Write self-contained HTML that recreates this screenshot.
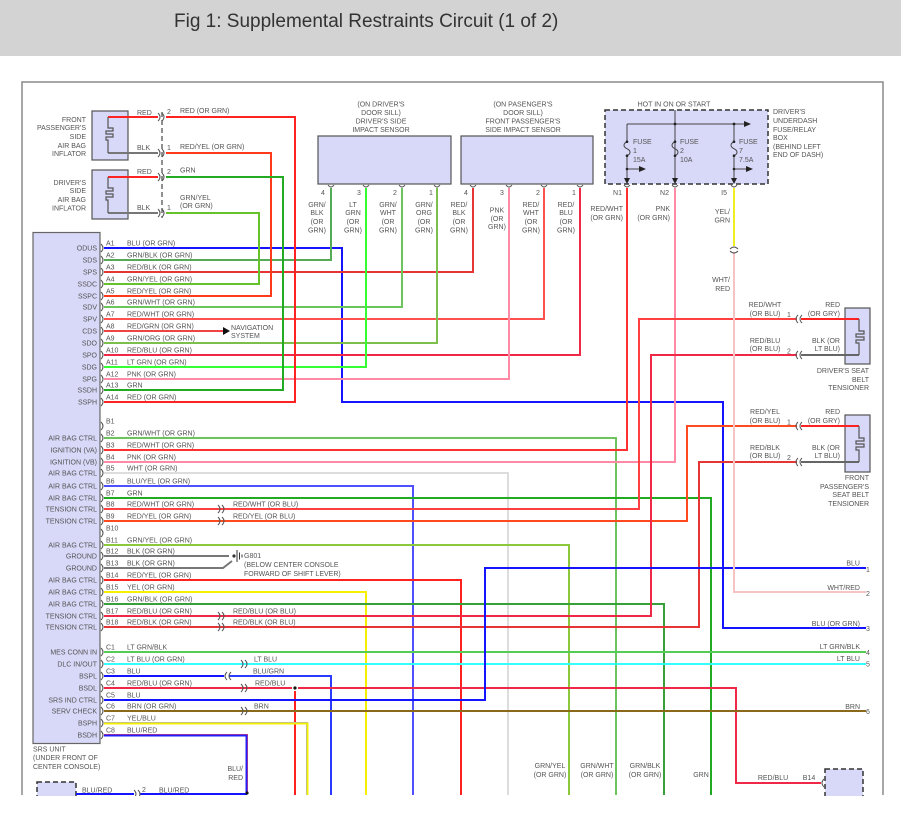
<!DOCTYPE html>
<html>
<head>
<meta charset="utf-8">
<style>
html,body{margin:0;padding:0;background:#fff;}
body{width:901px;height:820px;overflow:hidden;}
svg{display:block;}
.w{fill:none;stroke-width:2;stroke-linejoin:miter;stroke-linecap:butt}
.t{font-size:7px;fill:#555}
.e{text-anchor:end}
.m{text-anchor:middle}
.c{fill:none;stroke:#555;stroke-width:1}
</style>
</head>
<body>
<svg width="901" height="820" viewBox="0 0 901 820" xmlns="http://www.w3.org/2000/svg" font-family="'Liberation Sans', Arial, sans-serif">
<rect x="0" y="0" width="901" height="820" fill="#fff"/>
<rect x="0" y="0" width="901" height="56" fill="#d3d3d3"/>
<text x="174" y="27" font-size="19" fill="#333">Fig 1: Supplemental Restraints Circuit (1 of 2)</text>

<!-- frame -->
<path d="M22,795V82H883V795" fill="none" stroke="#8a8a8a" stroke-width="1.5"/>

<!-- components -->
<rect x="92" y="111" width="36" height="49" fill="#d8d8f8" stroke="#555" stroke-width="1.2"/>
<rect x="92" y="170" width="36" height="49" fill="#d8d8f8" stroke="#555" stroke-width="1.2"/>
<rect x="318" y="136" width="133" height="48" fill="#d8d8f8" stroke="#555" stroke-width="1.2"/>
<rect x="461" y="136" width="132" height="48" fill="#d8d8f8" stroke="#555" stroke-width="1.2"/>
<rect x="605" y="110" width="163" height="74" fill="#d8d8f8" stroke="#333" stroke-width="1.5" stroke-dasharray="5 3"/>
<rect x="33" y="232.5" width="67" height="511" fill="#d8d8f8" stroke="#666" stroke-width="1.2"/>
<rect x="845" y="308" width="25" height="56" fill="#d8d8f8" stroke="#555" stroke-width="1.2"/>
<rect x="845" y="415" width="25" height="57" fill="#d8d8f8" stroke="#555" stroke-width="1.2"/>
<rect x="825" y="769" width="38" height="40" fill="#d8d8f8" stroke="#333" stroke-width="1.5" stroke-dasharray="5 3"/>
<rect x="37" y="782" width="39" height="30" fill="#d8d8f8" stroke="#333" stroke-width="1.5" stroke-dasharray="5 3"/>

<!-- inflator internals -->
<path class="w" stroke="#ff2222" d="M108,117H158"/>
<path class="w" stroke="#777" d="M108,153H158"/>
<path fill="none" stroke="#555" stroke-width="1.2" d="M108,117V128H113V131H106V134H113V137H106V140H108V153"/>
<path class="w" stroke="#ff2222" d="M108,177H158"/>
<path class="w" stroke="#777" d="M108,213H158"/>
<path fill="none" stroke="#555" stroke-width="1.2" d="M108,177V188H113V191H106V194H113V197H106V200H108V213"/>
<path d="M162,112V218" stroke="#555" stroke-width="1.3" stroke-dasharray="5 3" fill="none"/>

<!-- fuse box internals -->
<g stroke="#444" stroke-width="1" fill="none">
<path d="M675,110V180"/>
<path d="M627,124H747"/>
<path d="M627,124V141.7c-4,2 -4,5 0,7c4,2 4,5 0,7V180"/>
<path d="M675,124V141.7c-4,2 -4,5 0,7c4,2 4,5 0,7"/>
<path d="M734,124V141.7c-4,2 -4,5 0,7c4,2 4,5 0,7V180"/>
<path d="M627,169H640"/>
<path d="M734,169H747"/>
</g>
<g fill="#222">
<polygon points="744,121 751,124 744,127"/>
<polygon points="639,166 646,169 639,172"/>
<polygon points="746,166 753,169 746,172"/>
<polygon points="624,178 630,178 627,184"/>
<polygon points="672,178 678,178 675,184"/>
<polygon points="731,178 737,178 734,184"/>
<circle cx="675" cy="124" r="1.4"/><circle cx="734" cy="124" r="1.4"/>
<circle cx="627" cy="141.7" r="1.3"/><circle cx="627" cy="155.7" r="1.3"/>
<circle cx="675" cy="141.7" r="1.3"/><circle cx="675" cy="155.7" r="1.3"/>
<circle cx="734" cy="141.7" r="1.3"/><circle cx="734" cy="155.7" r="1.3"/>
<circle cx="627" cy="169" r="1.3"/><circle cx="734" cy="169" r="1.3"/>
</g>

<!-- tensioner internals -->
<path class="w" stroke="#ff2222" d="M801,319H859"/>
<path class="w" stroke="#666" d="M801,355H859"/>
<path fill="none" stroke="#555" stroke-width="1.2" d="M859,319V331H864V334H856V337H864V340H856V343H859V355"/>
<path class="w" stroke="#ff2222" d="M801,426H859"/>
<path class="w" stroke="#666" d="M801,462H859"/>
<path fill="none" stroke="#555" stroke-width="1.2" d="M859,426V438H864V441H856V444H864V447H856V450H859V462"/>

<!-- ===== WIRES ===== -->
<!-- A -->
<path class="w" stroke="#1414ff" d="M104,248H342V402H723V628H866"/>
<path class="w" stroke="#55aa55" d="M104,260H331V188"/>
<path class="w" stroke="#e53535" d="M104,272H473V188"/>
<path class="w" stroke="#e8e020" stroke-width="3" d="M104,284H259V213H166"/>
<path class="w" stroke="#66c22a" stroke-width="1.8" d="M104,284H259V213H166"/>
<path class="w" stroke="#ffc800" stroke-width="3" d="M104,296H271V153H166"/>
<path class="w" stroke="#ff3a1a" stroke-width="1.8" d="M104,296H271V153H166"/>
<path class="w" stroke="#6cc45c" d="M104,307H402V188"/>
<path class="w" stroke="#ff5050" d="M104,319H544V188"/>
<path class="w" stroke="#f04444" d="M104,331H224"/>
<polygon points="223,327 230,331 223,335" fill="#111"/>
<path class="w" stroke="#7cbf4c" d="M104,343H437V188"/>
<path class="w" stroke="#6060ff" stroke-width="3" d="M104,355H580V188"/>
<path class="w" stroke="#f02848" stroke-width="1.8" d="M104,355H580V188"/>
<path class="w" stroke="#33ff33" d="M104,367H366V188"/>
<path class="w" stroke="#ff8aa5" d="M104,379H509V188"/>
<path class="w" stroke="#22aa22" d="M104,390H283V177H166"/>
<path class="w" stroke="#ff2222" d="M104,402H295V117H166"/>

<!-- B -->
<path class="w" stroke="#6cc45c" d="M104,438H616V795"/>
<path class="w" stroke="#ff3030" d="M104,450H627V188"/>
<path class="w" stroke="#ff8aa5" d="M104,462H675V188"/>
<path class="w" stroke="#dddddd" d="M104,473H508V795"/>
<path class="w" stroke="#5050ff" d="M104,486H413V795"/>
<path class="w" stroke="#22aa22" d="M104,498H711V795"/>
<path class="w" stroke="#ff4040" d="M104,509H639V319H797"/>
<path class="w" stroke="#ff4a20" d="M104,521H687V426H797"/>
<path class="w" stroke="#8cc83c" d="M104,545H569V795"/>
<path class="w" stroke="#777" d="M104,556H229"/>
<path class="w" stroke="#777" d="M104,568H223L232,561"/>
<path class="w" stroke="#ff2020" d="M104,580H461V795"/>
<path class="w" stroke="#f5f000" d="M104,592H366V795"/>
<path class="w" stroke="#38a038" d="M104,604H664V795"/>
<path class="w" stroke="#6060ff" stroke-width="3" d="M104,616H651V355H797"/>
<path class="w" stroke="#f02848" stroke-width="1.8" d="M104,616H651V355H797"/>
<path class="w" stroke="#e53535" d="M104,627H699V462H797"/>

<!-- C -->
<path class="w" stroke="#55cc55" d="M104,652H866"/>
<path class="w" stroke="#33ffff" d="M104,664H866"/>
<path class="w" stroke="#1414ff" d="M104,676H224"/>
<path class="w" stroke="#2a3aff" d="M229,676H331V795"/>
<path class="w" stroke="#6060ff" stroke-width="3" d="M104,688H292M298,688H736V783H821"/>
<path class="w" stroke="#f02848" stroke-width="1.8" d="M104,688H292M298,688H736V783H821"/>
<path class="w" stroke="#ff2020" d="M295,691V795"/>
<circle cx="295" cy="688" r="1.6" fill="#111"/>
<path class="w" stroke="#1414ff" d="M104,700H485V568H866"/>
<path class="w" stroke="#8a6a1a" d="M104,711H866"/>
<path class="w" stroke="#9999ff" stroke-width="3" d="M104,723H307V795"/>
<path class="w" stroke="#f5f000" stroke-width="1.8" d="M104,723.5H307.5V795"/>
<path class="w" stroke="#ff4444" stroke-width="3" d="M104,735H247V793"/>
<path class="w" stroke="#2020ff" stroke-width="1.8" d="M104,735.5H246.5V793"/>
<path class="w" stroke="#1414ff" d="M76,794H134M140,794H247"/>
<circle cx="247" cy="793" r="1.6" fill="#111"/>

<!-- fuse outputs -->
<path class="w" stroke="#eeee22" d="M734,188V246"/>
<path class="w" stroke="#f5c4c4" d="M734,252V592H866"/>

<!-- ground G801 -->
<circle cx="234" cy="556" r="1.6" fill="#333"/>
<path d="M237,550V562M239.5,552.5V559.5M242,554.5V557.5" stroke="#333" stroke-width="1" fill="none"/>

<!-- ===== connectors ===== -->
<path class="c" d="M101,244q4,4 0,8M101,256q4,4 0,8M101,268q4,4 0,8M101,280q4,4 0,8M101,292q4,4 0,8M101,303q4,4 0,8M101,315q4,4 0,8M101,327q4,4 0,8M101,339q4,4 0,8M101,351q4,4 0,8M101,363q4,4 0,8M101,375q4,4 0,8M101,386q4,4 0,8M101,398q4,4 0,8"/>
<path class="c" d="M101,422q4,4 0,8M101,434q4,4 0,8M101,446q4,4 0,8M101,458q4,4 0,8M101,469q4,4 0,8M101,482q4,4 0,8M101,494q4,4 0,8M101,505q4,4 0,8M101,517q4,4 0,8M101,529q4,4 0,8M101,541q4,4 0,8M101,552q4,4 0,8M101,564q4,4 0,8M101,576q4,4 0,8M101,588q4,4 0,8M101,600q4,4 0,8M101,612q4,4 0,8M101,623q4,4 0,8"/>
<path class="c" d="M101,648q4,4 0,8M101,660q4,4 0,8M101,672q4,4 0,8M101,684q4,4 0,8M101,696q4,4 0,8M101,707q4,4 0,8M101,719q4,4 0,8M101,731q4,4 0,8"/>
<!-- inflator connectors -->
<path class="c" d="M158,113q4,4 0,8M162,113q4,4 0,8M158,149q4,4 0,8M162,149q4,4 0,8M158,173q4,4 0,8M162,173q4,4 0,8M158,209q4,4 0,8M162,209q4,4 0,8"/>
<!-- inline connectors B -->
<path class="c" d="M218,505q4,4 0,8M222,505q4,4 0,8M218,517q4,4 0,8M222,517q4,4 0,8M218,612q4,4 0,8M222,612q4,4 0,8M218,623q4,4 0,8M222,623q4,4 0,8"/>
<!-- inline connectors C -->
<path class="c" d="M241,660q4,4 0,8M245,660q4,4 0,8M241,684q4,4 0,8M245,684q4,4 0,8M241,707q4,4 0,8M245,707q4,4 0,8M227,672q-4,4 0,8M231,672q-4,4 0,8"/>
<path class="c" d="M134,790q4,4 0,8M138,790q4,4 0,8"/>
<!-- tensioner connectors -->
<path class="c" d="M798,315q-4,4 0,8M802,315q-4,4 0,8M798,351q-4,4 0,8M802,351q-4,4 0,8M798,422q-4,4 0,8M802,422q-4,4 0,8M798,458q-4,4 0,8M802,458q-4,4 0,8"/>
<path class="c" d="M824,779q-4,4 0,8"/>
<!-- cup connectors -->
<path class="c" d="M328,185q3,4 6,0M363,185q3,4 6,0M399,185q3,4 6,0M434,185q3,4 6,0M470,185q3,4 6,0M506,185q3,4 6,0M541,185q3,4 6,0M577,185q3,4 6,0M624,185q3,4 6,0M672,185q3,4 6,0M731,185q3,4 6,0"/>
<path class="c" d="M730,249q4,-4 8,0M730,251q4,4 8,0"/>

<!-- ===== TEXT ===== -->
<g class="t">
<!-- inflators -->
<text class="e" x="86" y="122">FRONT</text>
<text class="e" x="86" y="130">PASSENGER'S</text>
<text class="e" x="86" y="139">SIDE</text>
<text class="e" x="86" y="148">AIR BAG</text>
<text class="e" x="86" y="156">INFLATOR</text>
<text class="e" x="86" y="185">DRIVER'S</text>
<text class="e" x="86" y="193">SIDE</text>
<text class="e" x="86" y="202">AIR BAG</text>
<text class="e" x="86" y="210.5">INFLATOR</text>
<text x="137" y="115">RED</text>
<text x="137" y="150">BLK</text>
<text x="137" y="174">RED</text>
<text x="137" y="210">BLK</text>
<text x="167" y="114">2</text>
<text x="167" y="150">1</text>
<text x="167" y="174">2</text>
<text x="167" y="210">1</text>
<text x="180" y="113">RED (OR GRN)</text>
<text x="180" y="149">RED/YEL (OR GRN)</text>
<text x="180" y="172.5">GRN</text>
<text x="180" y="200">GRN/YEL</text>
<text x="180" y="208">(OR GRN)</text>

<!-- sensors -->
<text class="m" x="381" y="106.5">(ON DRIVER'S</text>
<text class="m" x="381" y="115">DOOR SILL)</text>
<text class="m" x="381" y="123.5">DRIVER'S SIDE</text>
<text class="m" x="381" y="132">IMPACT SENSOR</text>
<text class="m" x="523" y="106.5">(ON PASENGER'S</text>
<text class="m" x="523" y="115">DOOR SILL)</text>
<text class="m" x="523" y="123.5">FRONT PASSENGER'S</text>
<text class="m" x="523" y="132">SIDE IMPACT SENSOR</text>
<text x="321" y="195">4</text><text x="357" y="195">3</text><text x="393" y="195">2</text><text x="429" y="195">1</text>
<text x="464" y="195">4</text><text x="500" y="195">3</text><text x="536" y="195">2</text><text x="572" y="195">1</text>

<text class="m" x="317" y="207">GRN/</text><text class="m" x="317" y="215">BLK</text><text class="m" x="317" y="224">(OR</text><text class="m" x="317" y="232.5">GRN)</text>
<text class="m" x="353" y="207">LT</text><text class="m" x="353" y="215">GRN</text><text class="m" x="353" y="224">(OR</text><text class="m" x="353" y="232.5">GRN)</text>
<text class="m" x="388" y="207">GRN/</text><text class="m" x="388" y="215">WHT</text><text class="m" x="388" y="224">(OR</text><text class="m" x="388" y="232.5">GRN)</text>
<text class="m" x="424" y="207">GRN/</text><text class="m" x="424" y="215">ORG</text><text class="m" x="424" y="224">(OR</text><text class="m" x="424" y="232.5">GRN)</text>
<text class="m" x="459" y="207">RED/</text><text class="m" x="459" y="215">BLK</text><text class="m" x="459" y="224">(OR</text><text class="m" x="459" y="232.5">GRN)</text>
<text class="m" x="497" y="212.5">PNK</text><text class="m" x="497" y="221">(OR</text><text class="m" x="497" y="229">GRN)</text>
<text class="m" x="531" y="207">RED/</text><text class="m" x="531" y="215">WHT</text><text class="m" x="531" y="224">(OR</text><text class="m" x="531" y="232.5">GRN)</text>
<text class="m" x="566" y="207">RED/</text><text class="m" x="566" y="215">BLU</text><text class="m" x="566" y="224">(OR</text><text class="m" x="566" y="232.5">GRN)</text>

<!-- fuse box -->
<text class="m" x="674" y="106.5">HOT IN ON OR START</text>
<text x="633" y="144">FUSE</text><text x="633" y="153">1</text><text x="633" y="162">15A</text>
<text x="680" y="144">FUSE</text><text x="680" y="153">2</text><text x="680" y="162">10A</text>
<text x="739" y="144">FUSE</text><text x="739" y="153">7</text><text x="739" y="162">7.5A</text>
<text x="773" y="114">DRIVER'S</text>
<text x="773" y="123">UNDERDASH</text>
<text x="773" y="132">FUSE/RELAY</text>
<text x="773" y="140">BOX</text>
<text x="773" y="149">(BEHIND LEFT</text>
<text x="773" y="157">END OF DASH)</text>
<text class="e" x="622" y="195">N1</text>
<text class="e" x="669" y="195">N2</text>
<text class="e" x="727" y="195">I5</text>
<text class="e" x="623" y="211">RED/WHT</text><text class="e" x="623" y="220">(OR GRN)</text>
<text class="e" x="670" y="211">PNK</text><text class="e" x="670" y="220">(OR GRN)</text>
<text class="e" x="730" y="214">YEL/</text><text class="e" x="730" y="222.5">GRN</text>
<text class="e" x="730" y="282">WHT/</text><text class="e" x="730" y="291">RED</text>

<!-- tensioners -->
<text class="m" x="765" y="307">RED/WHT</text><text class="m" x="765" y="316">(OR BLU)</text>
<text x="787" y="317">1</text>
<text class="e" x="840" y="307">RED</text><text class="e" x="840" y="316">(OR GRY)</text>
<text class="m" x="765" y="343">RED/BLU</text><text class="m" x="765" y="351">(OR BLU)</text>
<text x="787" y="353.5">2</text>
<text class="e" x="840" y="343">BLK (OR</text><text class="e" x="840" y="351">LT BLU)</text>
<text class="e" x="869" y="373">DRIVER'S SEAT</text>
<text class="e" x="869" y="382">BELT</text>
<text class="e" x="869" y="390">TENSIONER</text>
<text class="m" x="765" y="414">RED/YEL</text><text class="m" x="765" y="423">(OR BLU)</text>
<text x="787" y="424.5">1</text>
<text class="e" x="840" y="414">RED</text><text class="e" x="840" y="423">(OR GRY)</text>
<text class="m" x="765" y="450">RED/BLK</text><text class="m" x="765" y="458">(OR BLU)</text>
<text x="787" y="460">2</text>
<text class="e" x="840" y="450">BLK (OR</text><text class="e" x="840" y="458">LT BLU)</text>
<text class="e" x="869" y="480">FRONT</text>
<text class="e" x="869" y="489">PASSENGER'S</text>
<text class="e" x="869" y="497">SEAT BELT</text>
<text class="e" x="869" y="506">TENSIONER</text>

<!-- right pins -->
<text class="e" x="860" y="565.5">BLU</text><text x="866" y="572">1</text>
<text class="e" x="860" y="590">WHT/RED</text><text x="866" y="596">2</text>
<text class="e" x="860" y="626">BLU (OR GRN)</text><text x="866" y="631">3</text>
<text class="e" x="860" y="649">LT GRN/BLK</text><text x="866" y="655">4</text>
<text class="e" x="860" y="661">LT BLU</text><text x="866" y="666.5">5</text>
<text class="e" x="860" y="709">BRN</text><text x="866" y="714">6</text>

<!-- navigation / ground -->
<text x="231" y="330">NAVIGATION</text>
<text x="231" y="338">SYSTEM</text>
<text x="244" y="558">G801</text>
<text x="244" y="567">(BELOW CENTER CONSOLE</text>
<text x="244" y="576">FORWARD OF SHIFT LEVER)</text>

<!-- SRS pin names -->
<text class="e" x="97" y="250.5">ODUS</text>
<text class="e" x="97" y="262.5">SDS</text>
<text class="e" x="97" y="274.5">SPS</text>
<text class="e" x="97" y="286.5">SSDC</text>
<text class="e" x="97" y="298.5">SSPC</text>
<text class="e" x="97" y="309.5">SDV</text>
<text class="e" x="97" y="321.5">SPV</text>
<text class="e" x="97" y="333.5">CDS</text>
<text class="e" x="97" y="345.5">SDO</text>
<text class="e" x="97" y="357.5">SPO</text>
<text class="e" x="97" y="369.5">SDG</text>
<text class="e" x="97" y="381.5">SPG</text>
<text class="e" x="97" y="392.5">SSDH</text>
<text class="e" x="97" y="404.5">SSPH</text>

<text class="e" x="97" y="440.5">AIR BAG CTRL</text>
<text class="e" x="97" y="452.5">IGNITION (VA)</text>
<text class="e" x="97" y="464.5">IGNITION (VB)</text>
<text class="e" x="97" y="475.5">AIR BAG CTRL</text>
<text class="e" x="97" y="488.5">AIR BAG CTRL</text>
<text class="e" x="97" y="500.5">AIR BAG CTRL</text>
<text class="e" x="97" y="511.5">TENSION CTRL</text>
<text class="e" x="97" y="523.5">TENSION CTRL</text>
<text class="e" x="97" y="547.5">AIR BAG CTRL</text>
<text class="e" x="97" y="558.5">GROUND</text>
<text class="e" x="97" y="570.5">GROUND</text>
<text class="e" x="97" y="582.5">AIR BAG CTRL</text>
<text class="e" x="97" y="594.5">AIR BAG CTRL</text>
<text class="e" x="97" y="606.5">AIR BAG CTRL</text>
<text class="e" x="97" y="618.5">TENSION CTRL</text>
<text class="e" x="97" y="629.5">TENSION CTRL</text>

<text class="e" x="97" y="654.5">MES CONN IN</text>
<text class="e" x="97" y="666.5">DLC IN/OUT</text>
<text class="e" x="97" y="678.5">BSPL</text>
<text class="e" x="97" y="690.5">BSDL</text>
<text class="e" x="97" y="702.5">SRS IND CTRL</text>
<text class="e" x="97" y="713.5">SERV CHECK</text>
<text class="e" x="97" y="725.5">BSPH</text>
<text class="e" x="97" y="737.5">BSDH</text>

<!-- pin numbers + wire labels A -->
<text x="106" y="245.5">A1</text><text x="127" y="245.5">BLU (OR GRN)</text>
<text x="106" y="257.5">A2</text><text x="127" y="257.5">GRN/BLK (OR GRN)</text>
<text x="106" y="269.5">A3</text><text x="127" y="269.5">RED/BLK (OR GRN)</text>
<text x="106" y="281.5">A4</text><text x="127" y="281.5">GRN/YEL (OR GRN)</text>
<text x="106" y="293.5">A5</text><text x="127" y="293.5">RED/YEL (OR GRN)</text>
<text x="106" y="304.5">A6</text><text x="127" y="304.5">GRN/WHT (OR GRN)</text>
<text x="106" y="316.5">A7</text><text x="127" y="316.5">RED/WHT (OR GRN)</text>
<text x="106" y="328.5">A8</text><text x="127" y="328.5">RED/GRN (OR GRN)</text>
<text x="106" y="340.5">A9</text><text x="127" y="340.5">GRN/ORG (OR GRN)</text>
<text x="106" y="352.5">A10</text><text x="127" y="352.5">RED/BLU (OR GRN)</text>
<text x="106" y="364.5">A11</text><text x="127" y="364.5">LT GRN (OR GRN)</text>
<text x="106" y="376.5">A12</text><text x="127" y="376.5">PNK (OR GRN)</text>
<text x="106" y="387.5">A13</text><text x="127" y="387.5">GRN</text>
<text x="106" y="399.5">A14</text><text x="127" y="399.5">RED (OR GRN)</text>

<!-- B -->
<text x="106" y="423.5">B1</text>
<text x="106" y="435.5">B2</text><text x="127" y="435.5">GRN/WHT (OR GRN)</text>
<text x="106" y="447.5">B3</text><text x="127" y="447.5">RED/WHT (OR GRN)</text>
<text x="106" y="459.5">B4</text><text x="127" y="459.5">PNK (OR GRN)</text>
<text x="106" y="470.5">B5</text><text x="127" y="470.5">WHT (OR GRN)</text>
<text x="106" y="483.5">B6</text><text x="127" y="483.5">BLU/YEL (OR GRN)</text>
<text x="106" y="495.5">B7</text><text x="127" y="495.5">GRN</text>
<text x="106" y="506.5">B8</text><text x="127" y="506.5">RED/WHT (OR GRN)</text>
<text x="106" y="518.5">B9</text><text x="127" y="518.5">RED/YEL (OR GRN)</text>
<text x="106" y="530.5">B10</text>
<text x="106" y="542.5">B11</text><text x="127" y="542.5">GRN/YEL (OR GRN)</text>
<text x="106" y="553.5">B12</text><text x="127" y="553.5">BLK (OR GRN)</text>
<text x="106" y="565.5">B13</text><text x="127" y="565.5">BLK (OR GRN)</text>
<text x="106" y="577.5">B14</text><text x="127" y="577.5">RED/YEL (OR GRN)</text>
<text x="106" y="589.5">B15</text><text x="127" y="589.5">YEL (OR GRN)</text>
<text x="106" y="601.5">B16</text><text x="127" y="601.5">GRN/BLK (OR GRN)</text>
<text x="106" y="613.5">B17</text><text x="127" y="613.5">RED/BLU (OR GRN)</text>
<text x="106" y="624.5">B18</text><text x="127" y="624.5">RED/BLK (OR GRN)</text>
<text x="233" y="506.5">RED/WHT (OR BLU)</text>
<text x="233" y="518.5">RED/YEL (OR BLU)</text>
<text x="233" y="613.5">RED/BLU (OR BLU)</text>
<text x="233" y="624.5">RED/BLK (OR BLU)</text>

<!-- C -->
<text x="106" y="649.5">C1</text><text x="127" y="649.5">LT GRN/BLK</text>
<text x="106" y="661.5">C2</text><text x="127" y="661.5">LT BLU (OR GRN)</text>
<text x="106" y="673.5">C3</text><text x="127" y="673.5">BLU</text>
<text x="106" y="685.5">C4</text><text x="127" y="685.5">RED/BLU (OR GRN)</text>
<text x="106" y="697.5">C5</text><text x="127" y="697.5">BLU</text>
<text x="106" y="708.5">C6</text><text x="127" y="708.5">BRN (OR GRN)</text>
<text x="106" y="720.5">C7</text><text x="127" y="720.5">YEL/BLU</text>
<text x="106" y="732.5">C8</text><text x="127" y="732.5">BLU/RED</text>
<text x="254" y="661.5">LT BLU</text>
<text x="253" y="673.5">BLU/GRN</text>
<text x="255" y="685.5">RED/BLU</text>
<text x="254" y="708.5">BRN</text>

<!-- bottom -->
<text x="33" y="751.5">SRS UNIT</text>
<text x="33" y="760">(UNDER FRONT OF</text>
<text x="33" y="769">CENTER CONSOLE)</text>
<text class="e" x="243" y="771">BLU/</text>
<text class="e" x="243" y="780">RED</text>
<text x="82" y="792.5">BLU/RED</text>
<text x="142" y="792">2</text>
<text x="159" y="792.5">BLU/RED</text>
<text class="m" x="550" y="768">GRN/YEL</text><text class="m" x="550" y="777">(OR GRN)</text>
<text class="m" x="597" y="768">GRN/WHT</text><text class="m" x="597" y="777">(OR GRN)</text>
<text class="m" x="645" y="768">GRN/BLK</text><text class="m" x="645" y="777">(OR GRN)</text>
<text class="m" x="701" y="777">GRN</text>
<text class="m" x="773" y="780">RED/BLU</text>
<text class="m" x="809" y="780">B14</text>
</g>

<rect x="0" y="796" width="901" height="24" fill="#fff"/>
</svg>
</body>
</html>
